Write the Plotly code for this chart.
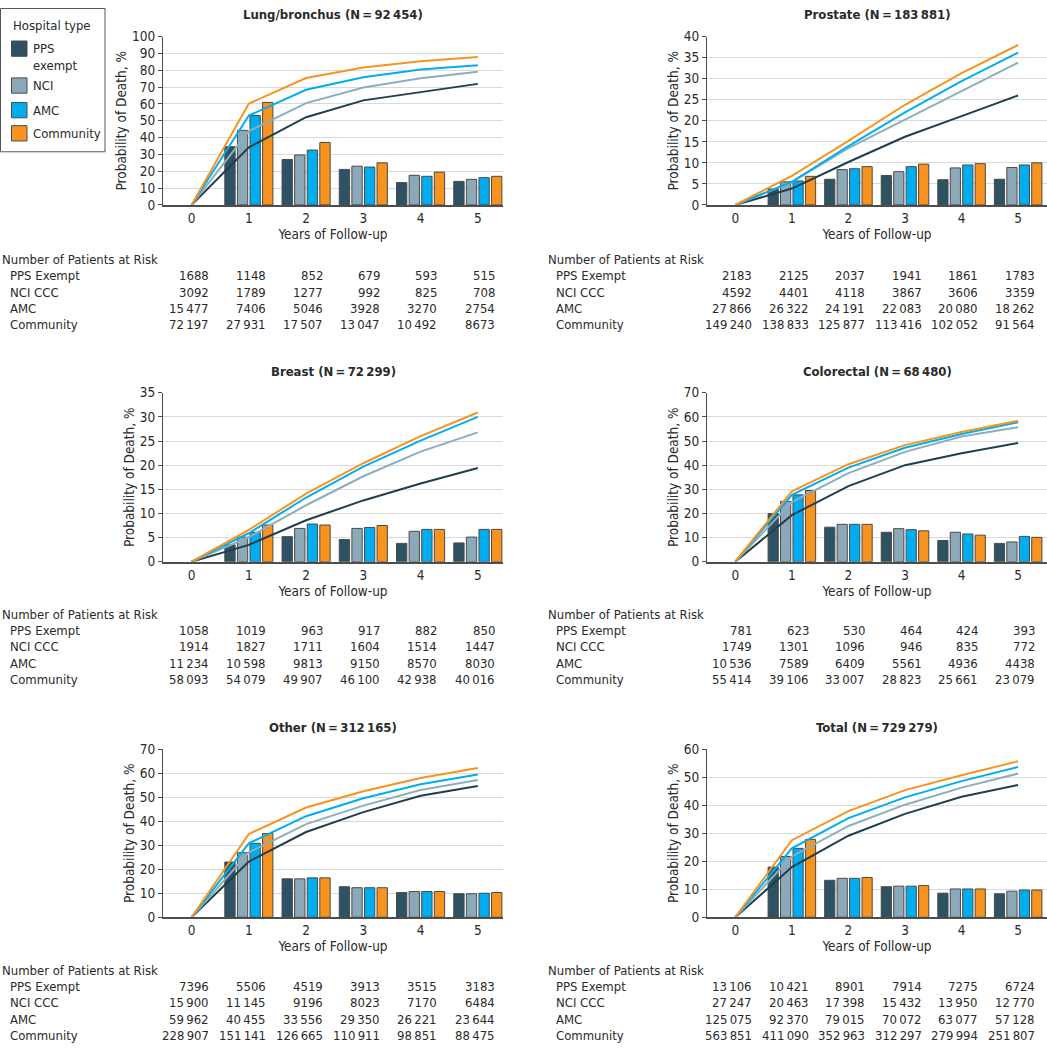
import plotly.graph_objects as go

# hospital types and colours
groups = ["PPS exempt", "NCI", "AMC", "Community"]
risk_labels = ["PPS Exempt", "NCI CCC", "AMC", "Community"]
bar_colors = ["#2c5263", "#8ba9b9", "#00aeef", "#f7931e"]
line_colors = ["#1f3f4d", "#8caebe", "#00aeef", "#f7931e"]

years = [0, 1, 2, 3, 4, 5]
bar_years = [1, 2, 3, 4, 5]

# cumulative probability of death (lines), order: PPS, NCI, AMC, Community
lung_cum = [[0, 34.2, 52.1, 62.1, 67.0, 71.9],
            [0, 43.9, 60.5, 69.7, 75.2, 79.1],
            [0, 53.1, 68.4, 75.8, 80.5, 83.0],
            [0, 60.2, 75.4, 81.6, 85.4, 87.9]]
prostate_cum = [[0, 3.9, 10.2, 16.2, 21.1, 26.0],
                [0, 5.4, 13.5, 20.3, 27.2, 33.8],
                [0, 5.5, 14.0, 22.0, 29.4, 36.2],
                [0, 6.9, 15.2, 23.8, 31.3, 38.0]]
breast_cum = [[0, 3.5, 8.6, 12.7, 16.2, 19.4],
              [0, 5.1, 11.7, 17.7, 22.8, 26.8],
              [0, 5.9, 13.3, 19.7, 25.1, 30.0],
              [0, 6.6, 14.1, 20.4, 26.0, 30.9]]
colorectal_cum = [[0, 19.3, 31.3, 40.0, 44.9, 49.2],
                  [0, 24.7, 36.7, 45.5, 51.9, 55.7],
                  [0, 27.7, 39.0, 47.2, 52.9, 57.8],
                  [0, 29.2, 40.4, 48.3, 53.7, 58.4]]
other_cum = [[0, 23.2, 35.5, 43.8, 50.6, 54.7],
             [0, 27.0, 38.8, 46.5, 53.0, 57.2],
             [0, 30.8, 42.1, 49.6, 55.4, 59.5],
             [0, 34.7, 45.7, 52.5, 58.0, 62.2]]
total_cum = [[0, 17.9, 29.1, 36.9, 43.0, 47.2],
             [0, 21.7, 32.6, 40.2, 46.3, 51.3],
             [0, 24.6, 35.4, 42.8, 48.6, 53.7],
             [0, 27.5, 37.9, 45.4, 50.7, 55.7]]

# annual probability of death (bars), years 1-5
lung_annual = [[34.6, 27.0, 21.1, 13.3, 14.0],
               [44.3, 29.7, 23.0, 17.6, 15.2],
               [53.1, 32.6, 22.5, 17.0, 16.2],
               [60.9, 37.1, 25.0, 19.5, 17.0]]
prostate_annual = [[3.8, 6.1, 7.0, 6.0, 6.1],
                   [5.5, 8.4, 7.9, 8.8, 8.9],
                   [5.7, 8.6, 9.1, 9.5, 9.5],
                   [6.8, 9.1, 9.7, 9.8, 10.0]]
breast_annual = [[3.5, 5.2, 4.6, 3.8, 3.9],
                 [5.1, 6.9, 6.9, 6.3, 5.1],
                 [6.1, 7.8, 7.1, 6.7, 6.7],
                 [7.6, 7.6, 7.5, 6.7, 6.7]]
colorectal_annual = [[20.0, 14.3, 12.2, 8.8, 7.6],
                     [25.0, 15.5, 13.7, 12.2, 8.2],
                     [27.7, 15.5, 13.3, 11.5, 10.5],
                     [29.5, 15.5, 12.8, 11.0, 10.1]]
other_annual = [[23.0, 16.0, 12.7, 10.3, 9.8],
                [26.9, 16.0, 12.3, 10.7, 9.8],
                [30.8, 16.4, 12.3, 10.7, 10.0],
                [34.9, 16.4, 12.3, 10.7, 10.3]]
total_annual = [[17.9, 13.2, 10.9, 8.6, 8.4],
                [21.7, 13.9, 11.1, 10.1, 9.3],
                [24.6, 13.9, 11.1, 10.1, 9.7],
                [27.8, 14.2, 11.3, 10.1, 9.7]]

# number of patients at risk
lung_risk = [[1688, 1148, 852, 679, 593, 515],
             [3092, 1789, 1277, 992, 825, 708],
             [15477, 7406, 5046, 3928, 3270, 2754],
             [72197, 27931, 17507, 13047, 10492, 8673]]
prostate_risk = [[2183, 2125, 2037, 1941, 1861, 1783],
                 [4592, 4401, 4118, 3867, 3606, 3359],
                 [27866, 26322, 24191, 22083, 20080, 18262],
                 [149240, 138833, 125877, 113416, 102052, 91564]]
breast_risk = [[1058, 1019, 963, 917, 882, 850],
               [1914, 1827, 1711, 1604, 1514, 1447],
               [11234, 10598, 9813, 9150, 8570, 8030],
               [58093, 54079, 49907, 46100, 42938, 40016]]
colorectal_risk = [[781, 623, 530, 464, 424, 393],
                   [1749, 1301, 1096, 946, 835, 772],
                   [10536, 7589, 6409, 5561, 4936, 4438],
                   [55414, 39106, 33007, 28823, 25661, 23079]]
other_risk = [[7396, 5506, 4519, 3913, 3515, 3183],
              [15900, 11145, 9196, 8023, 7170, 6484],
              [59962, 40455, 33556, 29350, 26221, 23644],
              [228907, 151141, 126665, 110911, 98851, 88475]]
total_risk = [[13106, 10421, 8901, 7914, 7275, 6724],
              [27247, 20463, 17398, 15432, 13950, 12770],
              [125075, 92370, 79015, 70072, 63077, 57128],
              [563851, 411090, 352963, 312297, 279994, 251807]]

panel_names = ["Lung/bronchus", "Prostate", "Breast", "Colorectal", "Other", "Total"]
panel_n = [92454, 183881, 72299, 68480, 312165, 729279]
panel_ymax = [100, 40, 35, 70, 70, 60]
panel_dtick = [10, 5, 5, 10, 10, 10]
cum_data = [lung_cum, prostate_cum, breast_cum, colorectal_cum, other_cum, total_cum]
annual_data = [lung_annual, prostate_annual, breast_annual, colorectal_annual, other_annual, total_annual]
risk_data = [lung_risk, prostate_risk, breast_risk, colorectal_risk, other_risk, total_risk]

W, H = 1047, 1050
FONT = "DejaVu Sans Condensed, Liberation Sans Narrow, Arial Narrow, sans-serif"
TXT = "#2a2a2a"
TS = "\u2009"
FS = 13


def fmt(n):
    s = str(n)
    if n >= 10000:
        s = s[:-3] + TS + s[-3:]
    return s


def px_x(p):
    return p / W


def px_y(p):
    return 1 - p / H


def tfont(size=FS):
    return dict(size=size, color=TXT, family=FONT)


# pixel layout of the panels
col_x = [(163, 503), (707, 1047)]
col_range = [[-0.5, 5.44], [-0.5, 5.51]]
row_y = [(29, 200), (390.7, 562.3), (752.7, 923.3)]
table_top = [255.5, 615.5, 977]
row_step = 16.6

fig = go.Figure()
annotations = []
shapes = []

for i in range(6):
    c, r = i % 2, i // 2
    ax = "" if i == 0 else str(i + 1)
    xa, ya = "x" + ax, "y" + ax
    # lines first so the bars sit on top of them
    for g in range(4):
        fig.add_trace(go.Scatter(
            x=years, y=cum_data[i][g], mode="lines", xaxis=xa, yaxis=ya,
            line=dict(color=line_colors[g], width=2), showlegend=False,
            hoverinfo="skip"))
    for g in range(4):
        fig.add_trace(go.Bar(
            x=bar_years, y=annual_data[i][g], xaxis=xa, yaxis=ya,
            marker=dict(color=bar_colors[g], line=dict(color="#4a4a4a", width=1)),
            name=groups[g], offsetgroup=str(g), showlegend=False))

    x0, x1 = col_x[c]
    y0, y1 = row_y[r]
    fig.update_layout(**{
        "xaxis" + ax: dict(
            domain=[px_x(x0), px_x(x1)], anchor=ya, range=col_range[c],
            tickvals=years, showgrid=False, zeroline=False,
            showline=True, linecolor="#4d4d4d", linewidth=1.5, ticks="",
            tickfont=tfont(FS + 0.5),
            title=dict(text="Years of Follow-up", standoff=4, font=tfont(FS + 0.5))),
        "yaxis" + ax: dict(
            domain=[px_y(y1), px_y(y0)], anchor=xa,
            range=[0, panel_ymax[i]], dtick=panel_dtick[i],
            showgrid=True, gridcolor="#dadada", gridwidth=1, zeroline=False,
            showline=True, linecolor="#4d4d4d", linewidth=1,
            ticks="outside", ticklen=4, tickcolor="#4d4d4d",
            tickfont=tfont(FS + 0.5),
            title=dict(text="Probability of Death, %", standoff=2, font=tfont(FS + 0.5))),
    })

    # panel title
    annotations.append(dict(
        x=px_x((x0 + x1) / 2), y=px_y(y0 - 22), xref="paper", yref="paper",
        text="<b>%s (N%s=%s%s)</b>" % (panel_names[i], TS, TS, fmt(panel_n[i])),
        showarrow=False, xanchor="center", yanchor="middle", font=tfont(FS)))

    # number at risk table
    ty = table_top[r]
    lx = 0 if c == 0 else 546
    annotations.append(dict(
        x=px_x(lx), y=px_y(ty), xref="paper", yref="paper",
        text="Number of Patients at Risk", showarrow=False,
        xanchor="left", yanchor="middle", font=tfont()))
    for g in range(4):
        yy = px_y(ty + row_step * (g + 1))
        annotations.append(dict(
            x=px_x(lx + 8), y=yy, xref="paper", yref="paper",
            text=risk_labels[g], showarrow=False, xanchor="left", yanchor="middle",
            font=tfont()))
        for k, yr in enumerate(years):
            annotations.append(dict(
                x=yr + 0.33, y=yy, xref=xa, yref="paper",
                text=fmt(risk_data[i][g][k]), showarrow=False,
                xanchor="right", yanchor="middle", font=tfont()))

# legend box drawn by hand (top-left corner)
shapes.append(dict(type="rect", xref="paper", yref="paper",
                   x0=px_x(0.5), x1=px_x(105), y0=px_y(146), y1=px_y(0.5),
                   line=dict(color="#555", width=1), fillcolor="white", layer="above"))
annotations.append(dict(
    x=px_x(11), y=px_y(18), xref="paper", yref="paper", text="Hospital type",
    showarrow=False, xanchor="left", yanchor="middle", font=tfont()))
legend_top = [33.5, 71, 96, 119.5]
for g in range(4):
    shapes.append(dict(type="rect", xref="paper", yref="paper",
                       x0=px_x(11.5), x1=px_x(27), y0=px_y(legend_top[g] + 15.5),
                       y1=px_y(legend_top[g]),
                       line=dict(color="#4a4a4a", width=1), fillcolor=bar_colors[g],
                       layer="above"))
    words = groups[g].split(" ") if g == 0 else [groups[g]]
    for w, word in enumerate(words):
        annotations.append(dict(
            x=px_x(31), y=px_y(legend_top[g] + 8 + w * 16.5), xref="paper", yref="paper",
            text=word, showarrow=False, xanchor="left", yanchor="middle", font=tfont()))

fig.update_layout(
    width=W, height=H,
    margin=dict(l=0, r=0, t=0, b=0),
    paper_bgcolor="white", plot_bgcolor="white",
    barmode="group", bargap=0.12, bargroupgap=0.18,
    font=dict(family=FONT, size=FS, color=TXT),
    annotations=annotations, shapes=shapes,
    showlegend=False,
)

fig.write_html(
    "out.html",
    config={"displayModeBar": False},
    post_script="document.body.style.margin='0';document.body.style.overflow='hidden';",
)
